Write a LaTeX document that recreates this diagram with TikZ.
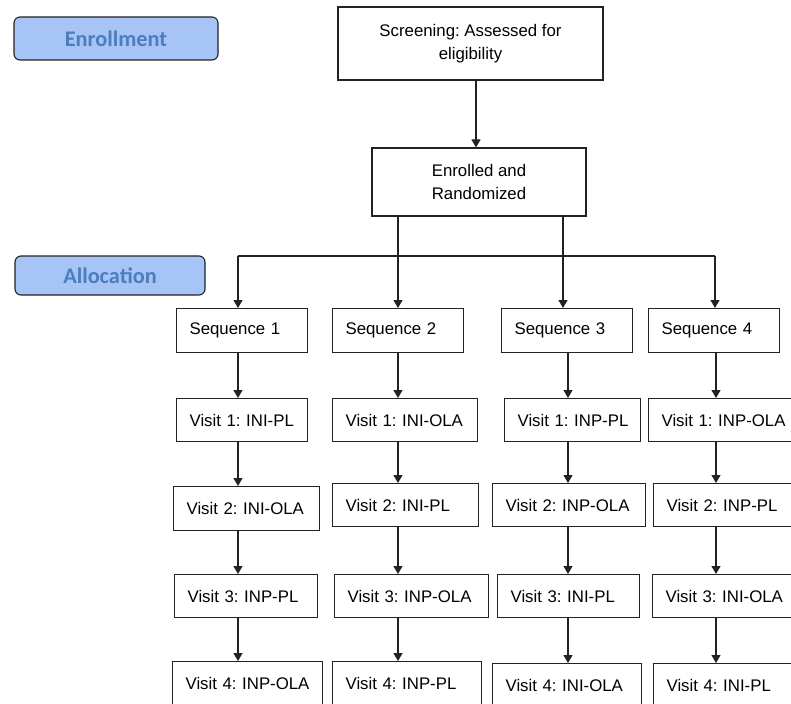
\documentclass[tikz,border=0pt]{standalone}
\usepackage{fontspec}
\setmainfont{Liberation Sans}
\newfontfamily\lblfont{Carlito}
\usetikzlibrary{arrows.meta}
\frenchspacing
\definecolor{lblfill}{HTML}{A6C4F6}
\definecolor{lbltext}{HTML}{4C7DBD}
\definecolor{edge}{HTML}{222222}
\tikzset{
  box/.style={draw=edge, line width=1.2pt, fill=white, inner sep=0pt, align=center,
    font=\fontsize{16.8}{23}\selectfont},
  cell/.style={draw=edge, line width=1.2pt, fill=white, anchor=north west, inner xsep=13pt,
    inner ysep=0pt, align=left, font=\fontsize{16.8}{20}\selectfont},
  phase/.style={draw=edge, line width=1.1pt, fill=lblfill, rounded corners=6pt,
    text=lbltext, inner sep=0pt, font=\lblfont\bfseries\fontsize{22.3}{26}\selectfont},
  arr/.style={draw=edge, line width=1.2pt, -{Triangle[length=8pt,width=9pt]}},
  ln/.style={draw=edge, line width=1.2pt}
}
\newcommand\cellnode[6]{\node[cell, text width=#4pt, minimum height=#5pt] (#1) at (#2,#3) {\mbox{#6}};}
\begin{document}
\begin{tikzpicture}[x=1pt,y=-1pt]
\useasboundingbox (0,0) rectangle (791,703);
\clip (0,0) rectangle (791,703);
\fill[white] (0,0) rectangle (791,703);
% phase labels
\node[phase, minimum width=204pt, minimum height=43pt] (enrollment) at (116,38.5) {Enrollment};
\node[phase, minimum width=190pt, minimum height=39pt] (allocation) at (110,275.5) {Allocation};
% top boxes
\node[box, minimum width=265pt, minimum height=73pt] (screen) at (470.5,43.5) {\frenchspacing Screening: Assessed for\\eligibility};
\node[box, minimum width=214pt, minimum height=68pt] (enr) at (479,182) {Enrolled and\\Randomized};
% sequences
\cellnode{seq1}{176}{308}{105}{44}{Sequence 1}
\cellnode{seq2}{332}{308}{105}{44}{Sequence 2}
\cellnode{seq3}{501}{308}{105}{44}{Sequence 3}
\cellnode{seq4}{648}{308}{105}{44}{Sequence 4}
% visit 1
\cellnode{v11}{176}{398}{105}{43}{\frenchspacing Visit 1: INI-PL}
\cellnode{v21}{332}{398}{119}{43}{\frenchspacing Visit 1: INI-OLA}
\cellnode{v31}{504}{398}{110}{43}{\frenchspacing Visit 1: INP-PL}
\cellnode{v41}{648}{398}{135}{43}{\frenchspacing Visit 1: INP-OLA}
% visit 2
\cellnode{v12}{173}{486}{120}{44}{\frenchspacing Visit 2: INI-OLA}
\cellnode{v22}{332}{483}{120}{43}{\frenchspacing Visit 2: INI-PL}
\cellnode{v32}{492}{483}{127}{43}{\frenchspacing Visit 2: INP-OLA}
\cellnode{v42}{653}{483}{135}{43}{\frenchspacing Visit 2: INP-PL}
% visit 3
\cellnode{v13}{174}{574}{117}{43}{\frenchspacing Visit 3: INP-PL}
\cellnode{v23}{334}{574}{128}{43}{\frenchspacing Visit 3: INP-OLA}
\cellnode{v33}{497}{574}{116}{43}{\frenchspacing Visit 3: INI-PL}
\cellnode{v43}{652}{574}{135}{43}{\frenchspacing Visit 3: INI-OLA}
% visit 4
\cellnode{v14}{172}{661}{124}{44}{\frenchspacing Visit 4: INP-OLA}
\cellnode{v24}{332}{661}{123}{44}{\frenchspacing Visit 4: INP-PL}
\cellnode{v34}{492}{663}{123}{44}{\frenchspacing Visit 4: INI-OLA}
\cellnode{v44}{653}{663}{135}{44}{\frenchspacing Visit 4: INI-PL}
% column coordinates
\coordinate (cs) at (476,0);
\coordinate (c1) at (238,0);
\coordinate (c2) at (398,0);
\coordinate (c3a) at (563,0);
\coordinate (c3) at (568,0);
\coordinate (c4) at (716,0);
\coordinate (hl) at (238,256);
\coordinate (hr) at (715,256);
% connectors
\draw[arr] (screen.south -| cs) -- (enr.north -| cs);
\draw[ln] (hl) -- (hr);
\draw[arr] (enr.south -| c2) -- (seq2.north -| c2);
\draw[arr] (enr.south -| c3a) -- (seq3.north -| c3a);
\draw[arr] (hl) -- (seq1.north -| hl);
\draw[arr] (hr) -- (seq4.north -| hr);
\draw[arr] (seq1.south -| c1) -- (v11.north -| c1);
\draw[arr] (v11.south -| c1) -- (v12.north -| c1);
\draw[arr] (v12.south -| c1) -- (v13.north -| c1);
\draw[arr] (v13.south -| c1) -- (v14.north -| c1);
\draw[arr] (seq2.south -| c2) -- (v21.north -| c2);
\draw[arr] (v21.south -| c2) -- (v22.north -| c2);
\draw[arr] (v22.south -| c2) -- (v23.north -| c2);
\draw[arr] (v23.south -| c2) -- (v24.north -| c2);
\draw[arr] (seq3.south -| c3) -- (v31.north -| c3);
\draw[arr] (v31.south -| c3) -- (v32.north -| c3);
\draw[arr] (v32.south -| c3) -- (v33.north -| c3);
\draw[arr] (v33.south -| c3) -- (v34.north -| c3);
\draw[arr] (seq4.south -| c4) -- (v41.north -| c4);
\draw[arr] (v41.south -| c4) -- (v42.north -| c4);
\draw[arr] (v42.south -| c4) -- (v43.north -| c4);
\draw[arr] (v43.south -| c4) -- (v44.north -| c4);
\end{tikzpicture}
\end{document}
